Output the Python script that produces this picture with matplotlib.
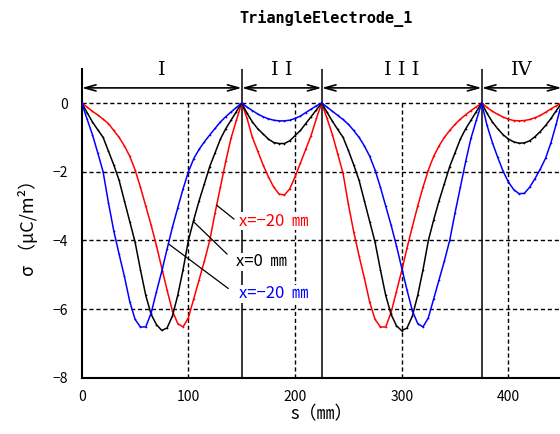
import numpy as np
import matplotlib
matplotlib.use("Agg")
import matplotlib.pyplot as plt

plt.rcParams['font.family'] = ['Noto Sans CJK JP', 'DejaVu Sans']

# position along the electrode (mm), one point every 5 mm
s = np.arange(0, 451, 5)

# surface charge density (uC/m^2)
sigma_red = [
    0, -0.12, -0.24, -0.35, -0.47, -0.6, -0.8, -1.0, -1.25, -1.55, -1.95,
    -2.45, -3.0, -3.55, -4.15, -4.8, -5.45, -6.05, -6.42, -6.52, -6.25,
    -5.7, -5.15, -4.6, -4.0, -3.2, -2.45, -1.7, -1.02, -0.5, 0,
    -0.45, -1.0, -1.4, -1.8, -2.15, -2.45, -2.65, -2.68, -2.5, -2.15,
    -1.75, -1.35, -0.95, -0.45, 0,
    -0.45, -0.92, -1.48, -2.05, -2.95, -3.75, -4.45, -5.1, -5.8, -6.3,
    -6.52, -6.52, -6.1, -5.5, -4.88, -4.22, -3.6, -3.0, -2.45, -1.95,
    -1.55, -1.25, -1.0, -0.8, -0.62, -0.47, -0.34, -0.22, -0.11, 0,
    -0.13, -0.24, -0.33, -0.41, -0.47, -0.51, -0.52, -0.51, -0.48, -0.43,
    -0.36, -0.27, -0.17, -0.08, 0,
]
sigma_black = [
    0, -0.28, -0.55, -0.78, -1.0, -1.4, -1.8, -2.25, -2.85, -3.45, -4.05,
    -4.85, -5.6, -6.15, -6.45, -6.62, -6.55, -6.2, -5.6, -4.85, -4.0,
    -3.4, -2.85, -2.35, -1.85, -1.45, -1.05, -0.75, -0.5, -0.25, 0,
    -0.3, -0.55, -0.75, -0.9, -1.05, -1.15, -1.18, -1.18, -1.1, -0.95,
    -0.8, -0.6, -0.4, -0.2, 0,
    -0.27, -0.53, -0.77, -1.0, -1.38, -1.8, -2.25, -2.85, -3.45, -4.05,
    -4.85, -5.6, -6.15, -6.48, -6.63, -6.55, -6.2, -5.6, -4.85, -4.0,
    -3.4, -2.85, -2.35, -1.85, -1.45, -1.05, -0.75, -0.5, -0.25, 0,
    -0.3, -0.55, -0.75, -0.92, -1.05, -1.13, -1.17, -1.16, -1.1, -0.98,
    -0.83, -0.65, -0.45, -0.22, 0,
]
sigma_blue = [
    0, -0.47, -0.92, -1.45, -2.0, -2.9, -3.72, -4.4, -5.05, -5.78, -6.3,
    -6.52, -6.52, -6.12, -5.5, -4.9, -4.25, -3.62, -3.05, -2.5, -2.0,
    -1.62, -1.35, -1.13, -0.93, -0.74, -0.55, -0.4, -0.26, -0.13, 0,
    -0.12, -0.22, -0.32, -0.4, -0.46, -0.5, -0.52, -0.52, -0.5, -0.45,
    -0.38, -0.28, -0.18, -0.08, 0,
    -0.12, -0.24, -0.36, -0.48, -0.62, -0.8, -1.0, -1.25, -1.55, -1.95,
    -2.45, -3.0, -3.55, -4.15, -4.8, -5.45, -6.05, -6.42, -6.52, -6.25,
    -5.7, -5.15, -4.6, -4.0, -3.2, -2.45, -1.7, -1.02, -0.5, 0,
    -0.65, -1.15, -1.58, -1.98, -2.3, -2.52, -2.64, -2.63, -2.45, -2.2,
    -1.92, -1.6, -1.15, -0.6, 0,
]

# electrode sections
bounds = [0, 150, 225, 375, 450]
section_names = ["I", "I I", "I I I", "IV"]

fig = plt.figure(figsize=(5.6, 4.34), dpi=100)
ax = fig.add_axes([0.146, 0.1295, 0.857, 0.7123])

# grid (dashed) and section boundaries (solid)
dash = (0, (3, 2))
ax.hlines([0, -2, -4, -6], 0, 450, colors='k', linestyles=dash, lw=1.0, zorder=1)
ax.vlines([100, 200, 300, 400], -8, 0, colors='k', linestyles=dash, lw=1.0, zorder=1)
ax.vlines(bounds[1:4], -8, 1, colors='k', lw=1.1, zorder=1)

for y, c in [(sigma_red, 'red'), (sigma_black, 'black'), (sigma_blue, 'blue')]:
    ax.plot(s, y, color=c, lw=1.1, marker='+', ms=1.6, mew=0.5, zorder=3)

# section arrows and roman numerals
for i in range(4):
    a, b = bounds[i], bounds[i + 1]
    ax.annotate('', xy=(b, 0.44), xytext=(a, 0.44),
                arrowprops=dict(arrowstyle='<->,head_length=0.8,head_width=0.22',
                                lw=1.2, color='k', shrinkA=0, shrinkB=0),
                annotation_clip=False)
    ax.text((a + b) / 2, 0.96, section_names[i], ha='center', va='center',
            fontsize=14, family='DejaVu Serif', clip_on=False)

# labels with leader lines
labels = [
    ("x=−20  ㎜", 'red', sigma_red, 126.5, (142.8, -3.38), (147.4, -3.44)),
    ("x=0  ㎜", 'black', sigma_black, 104.6, (136.3, -4.4), (144.7, -4.62)),
    ("x=−20  ㎜", 'blue', sigma_blue, 81.2, (137.4, -5.4), (147.4, -5.56)),
]
for txt, c, ys, s0, end, pos in labels:
    ax.annotate('', xy=(s0, np.interp(s0, s, ys)), xytext=end,
                arrowprops=dict(arrowstyle='-', lw=0.9, color='k',
                                shrinkA=0, shrinkB=0), zorder=4)
    ax.text(pos[0], pos[1], txt, color=c, fontsize=12, ha='left', va='center',
            bbox=dict(facecolor='white', edgecolor='none', pad=0.5), zorder=5)

ax.set_xlim(0, 450)
ax.set_ylim(-8, 1)
ax.set_xticks([0, 100, 200, 300, 400])
ax.set_yticks([0, -2, -4, -6, -8])
ax.set_yticklabels(["0", "−2", "−4", "−6", "−8"])
ax.tick_params(length=0, labelsize=10)
ax.tick_params(axis='x', pad=9)
ax.tick_params(axis='y', pad=10)
for side in ['top', 'right']:
    ax.spines[side].set_visible(False)
for side in ['left', 'bottom']:
    ax.spines[side].set_linewidth(1.5)

ax.set_xlabel("s（㎜）", fontsize=13, labelpad=1)
ax.set_ylabel("σ （μC/m²）", fontsize=13, labelpad=10)
fig.text(0.582, 0.958, "TriangleElectrode_1", ha='center', va='center',
         fontsize=11, fontweight='bold', family='DejaVu Sans Mono')

fig.savefig("out.png", dpi=100)
